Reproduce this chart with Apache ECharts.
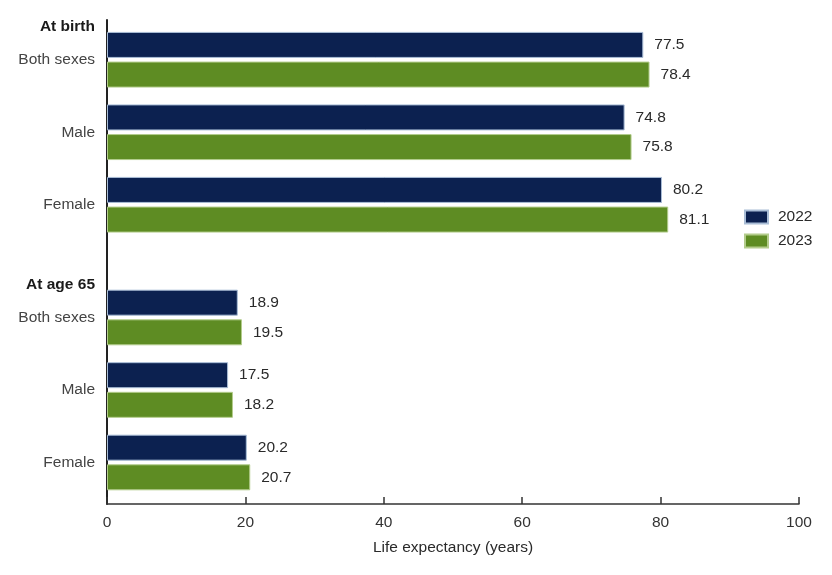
<!DOCTYPE html>
<html>
<head>
<meta charset="utf-8">
<script src="https://cdn.jsdelivr.net/npm/echarts@6/dist/echarts.min.js"></script>
<style>
html,body{margin:0;padding:0;background:#fff;}
#chart{width:832px;height:575px;}
</style>
</head>
<body>
<div id="chart"></div>
<script>
// Data
const groupHeaders = ['At birth', 'At age 65'];
const categories = ['Both sexes', 'Male', 'Female'];
const birth2022 = [77.5, 74.8, 80.2];
const birth2023 = [78.4, 75.8, 81.1];
const age65_2022 = [18.9, 17.5, 20.2];
const age65_2023 = [19.5, 18.2, 20.7];
const seriesNames = ['2022', '2023'];
const xTicks = [0, 20, 40, 60, 80, 100];

const FONT = '"Liberation Sans", Arial, Helvetica, sans-serif';
const FS = 15.5;
const NAVY = '#0c2150';
const GREEN = '#5e8c23';

const chart = echarts.init(document.getElementById('chart'));

function catAxis(gi, header) {
  return {
    type: 'category',
    gridIndex: gi,
    inverse: true,
    data: categories,
    axisLine: { show: false },
    axisTick: { show: false },
    axisLabel: {
      margin: 12,
      fontFamily: FONT,
      formatter: function (val, idx) {
        return idx === 0 ? '{h|' + header + '}\n{n|' + val + '}\n{n| }' : '{n|' + val + '}';
      },
      rich: {
        h: { fontFamily: FONT, fontSize: FS, fontWeight: 'bold', color: '#1a1a1a', lineHeight: 33 },
        n: { fontFamily: FONT, fontSize: FS, color: '#444', lineHeight: 33 }
      }
    }
  };
}

function hiddenX(gi) {
  return { type: 'value', gridIndex: gi, min: 0, max: 100, interval: 20, show: false };
}

const labelOpt = {
  show: true, position: 'right', distance: 11,
  fontFamily: FONT, fontSize: FS, color: '#2a2a2a',
  formatter: p => p.value.toFixed(1)
};

function barSeries(name, data, gi, color, border) {
  return {
    name: name, type: 'bar', xAxisIndex: gi, yAxisIndex: gi,
    data: data, barWidth: 26, barGap: '14%',
    itemStyle: { color: color, borderColor: border, borderWidth: 1 },
    label: labelOpt
  };
}

chart.setOption({
  animation: false,
  backgroundColor: '#fff',
  textStyle: { fontFamily: FONT },
  legend: {
    orient: 'vertical', left: 744, top: 209, padding: 0,
    itemWidth: 23, itemHeight: 13, itemGap: 8,
    icon: 'rect',
    data: seriesNames,
    textStyle: { fontFamily: FONT, fontSize: FS, color: '#2a2a2a', padding: [0, 0, 0, 5] }
  },
  grid: [
    { left: 107, right: 33, top: 23.5, height: 217.5 },
    { left: 107, right: 33, top: 281.25, height: 217.5 },
    { left: 107, right: 33, top: 20, bottom: 71 }
  ],
  xAxis: [
    hiddenX(0),
    hiddenX(1),
    {
      type: 'value', gridIndex: 2, min: 0, max: 100, interval: 20,
      name: 'Life expectancy (years)', nameLocation: 'middle', nameGap: 36,
      nameTextStyle: { fontFamily: FONT, fontSize: FS, color: '#2a2a2a' },
      axisLine: { show: true, onZero: false, lineStyle: { color: '#333', width: 1.5 } },
      axisTick: { show: true, inside: true, length: 7, lineStyle: { color: '#333', width: 1.5 } },
      axisLabel: { fontFamily: FONT, fontSize: FS, color: '#333', margin: 11,
        customValues: xTicks },
      splitLine: { show: false }
    }
  ],
  yAxis: [
    catAxis(0, groupHeaders[0]),
    catAxis(1, groupHeaders[1]),
    {
      type: 'value', gridIndex: 2, min: 0, max: 1,
      axisLine: { show: true, onZero: false, lineStyle: { color: '#222', width: 2 } },
      axisTick: { show: false }, axisLabel: { show: false }, splitLine: { show: false }
    }
  ],
  series: [
    barSeries(seriesNames[0], birth2022, 0, NAVY, '#a9bdd6'),
    barSeries(seriesNames[1], birth2023, 0, GREEN, '#b3cc8c'),
    barSeries(seriesNames[0], age65_2022, 1, NAVY, '#a9bdd6'),
    barSeries(seriesNames[1], age65_2023, 1, GREEN, '#b3cc8c')
  ]
});
</script>
</body>
</html>
